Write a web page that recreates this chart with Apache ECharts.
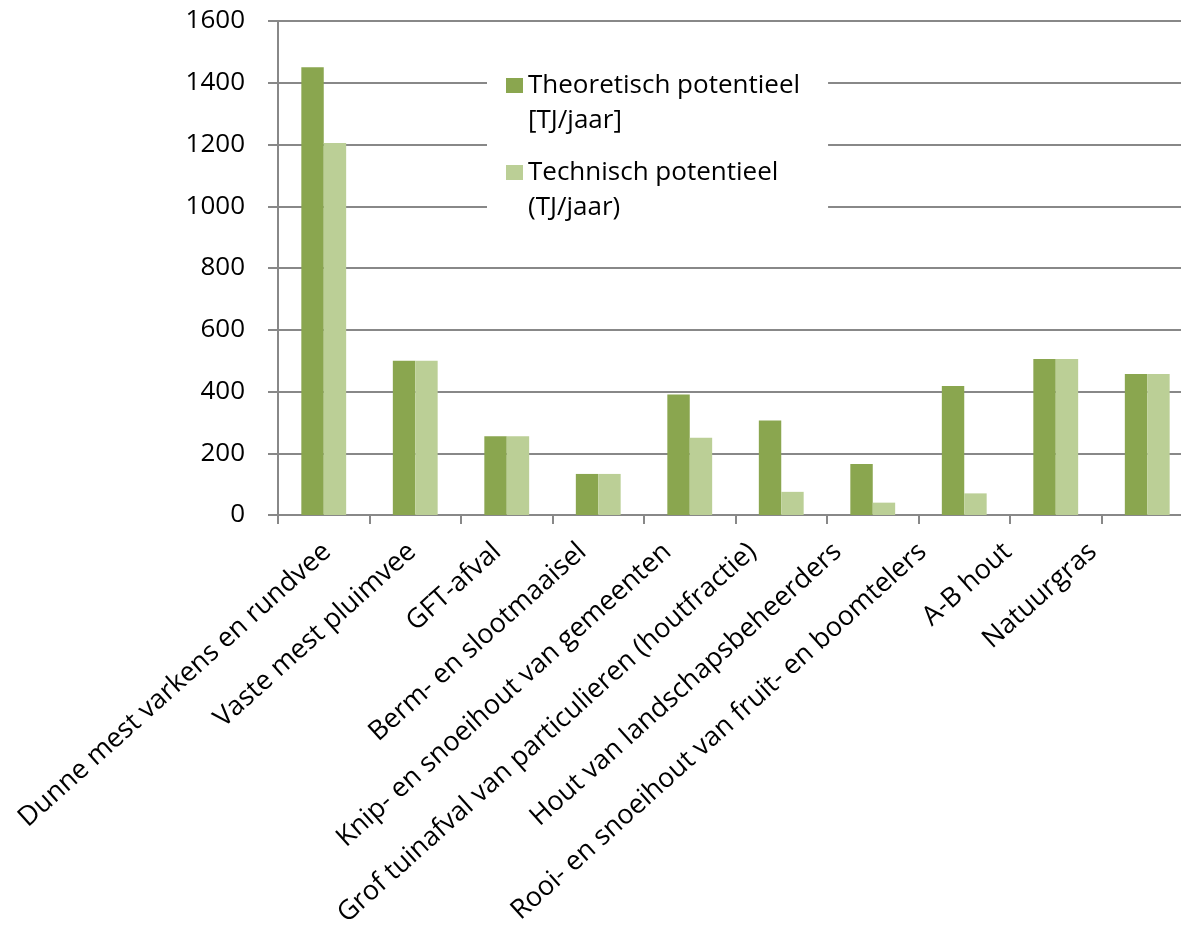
<!DOCTYPE html>
<html>
<head>
<meta charset="utf-8">
<script src="https://cdn.jsdelivr.net/npm/echarts@6/dist/echarts.min.js"></script>
<style>
html,body{margin:0;padding:0;background:#fff;}
#chart{width:1181px;height:926px;}
</style>
</head>
<body>
<div id="chart"></div>
<script>
const categories = [
  'Dunne mest varkens en rundvee',
  'Vaste mest pluimvee',
  'GFT-afval',
  'Berm- en slootmaaisel',
  'Knip- en snoeihout van gemeenten',
  'Grof tuinafval van particulieren (houtfractie)',
  'Hout van landschapsbeheerders',
  'Rooi- en snoeihout van fruit- en boomtelers',
  'A-B hout',
  'Natuurgras'
];
const theoretisch = [1450, 500, 255, 133, 390, 306, 165, 418, 505, 457];
const technisch   = [1205, 500, 255, 133, 250, 75, 40, 70, 505, 457];
const seriesNames = ['Theoretisch potentieel\n[TJ/jaar]', 'Technisch potentieel\n(TJ/jaar)'];
const yTicks = { min: 0, max: 1600, interval: 200 };

const FONT = 'Open Sans';
const GRAY = '#888888';
const LEGEND_ICON = 'path://M0,0L17,0L17,15L0,15Z M0,50L0,50';

const chart = echarts.init(document.getElementById('chart'));
chart.setOption({
  animation: false,
  backgroundColor: '#ffffff',
  color: ['#8aa64f', '#bbcf96'],
  grid: [
    { left: 278, width: 915, top: 21, bottom: 411, containLabel: false, outerBoundsMode: 'none' },
    { left: 284.5, right: 45.5, top: 21, bottom: 411, containLabel: false, outerBoundsMode: 'none' }
  ],
  legend: {
    orient: 'vertical',
    left: 487,
    top: 68,
    icon: LEGEND_ICON,
    itemWidth: 17,
    itemHeight: 50,
    itemGap: 17,
    padding: [0, 28, 0, 19],
    backgroundColor: '#ffffff',
    data: seriesNames,
    textStyle: {
      fontFamily: FONT,
      fontSize: 26,
      lineHeight: 35,
      color: '#000'
    }
  },
  xAxis: [
    {
      type: 'category',
      gridIndex: 0,
      data: categories,
      axisLine: { show: true, lineStyle: { color: GRAY, width: 2 } },
      axisTick: { show: true, interval: 0, length: 9, lineStyle: { color: GRAY, width: 2 } },
      axisLabel: { show: false, interval: 0 },
      splitLine: { show: false }
    },
    {
      type: 'category',
      gridIndex: 1,
      data: categories,
      axisLine: { show: false },
      axisTick: { show: false },
      axisLabel: {
        show: true,
        interval: 0,
        rotate: 42,
        margin: 33,
        fontFamily: FONT,
        fontSize: 27,
        color: '#000'
      },
      splitLine: { show: false }
    }
  ],
  yAxis: [
    {
      type: 'value',
      gridIndex: 0,
      min: yTicks.min,
      max: yTicks.max,
      interval: yTicks.interval,
      axisLine: { show: true, lineStyle: { color: GRAY, width: 2 } },
      axisTick: { show: true, length: 10, lineStyle: { color: GRAY, width: 2 } },
      axisLabel: { fontFamily: FONT, fontSize: 26, color: '#000', margin: 33, formatter: v => String(v) },
      splitLine: { show: true, lineStyle: { color: GRAY, width: 2 } }
    },
    {
      type: 'value',
      gridIndex: 1,
      show: false,
      min: yTicks.min,
      max: yTicks.max
    }
  ],
  series: [
    {
      name: seriesNames[0],
      type: 'bar',
      xAxisIndex: 0,
      yAxisIndex: 0,
      data: theoretisch,
      barGap: '0%',
      barCategoryGap: '51%',
      itemStyle: { color: '#8aa64f' }
    },
    {
      name: seriesNames[1],
      type: 'bar',
      xAxisIndex: 0,
      yAxisIndex: 0,
      data: technisch,
      barGap: '0%',
      barCategoryGap: '51%',
      itemStyle: { color: '#bbcf96' }
    }
  ]
});
</script>
</body>
</html>
